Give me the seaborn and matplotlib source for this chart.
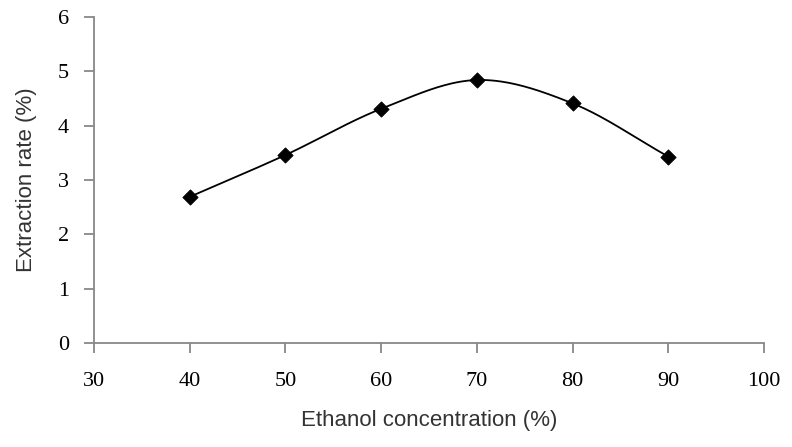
import numpy as np
import pandas as pd
import matplotlib
matplotlib.use("Agg")
import matplotlib.pyplot as plt
import seaborn as sns

# Data
ethanol = [40, 50, 60, 70, 80, 90]
extraction = [2.69, 3.46, 4.31, 4.84, 4.41, 3.43]
x_ticks = [30, 40, 50, 60, 70, 80, 90, 100]
y_ticks = [0, 1, 2, 3, 4, 5, 6]

sns.set_theme(style="white")
plt.rcParams["font.family"] = ["Liberation Sans", "DejaVu Sans"]


def smooth_curve(xs, ys, n=40, tension=0.5):
    """Catmull-Rom style smoothing (like a spreadsheet 'smoothed line')."""
    xs = np.asarray(xs, float)
    ys = np.asarray(ys, float)
    px = np.concatenate([[2 * xs[0] - xs[1]], xs, [2 * xs[-1] - xs[-2]]])
    py = np.concatenate([[2 * ys[0] - ys[1]], ys, [2 * ys[-1] - ys[-2]]])
    out_x, out_y = [], []
    for i in range(1, len(px) - 2):
        p0, p1, p2, p3 = (np.array([px[j], py[j]]) for j in (i - 1, i, i + 1, i + 2))
        c1 = p1 + (p2 - p0) * tension / 3
        c2 = p2 - (p3 - p1) * tension / 3
        t = np.linspace(0, 1, n)[:, None]
        b = ((1 - t) ** 3) * p1 + 3 * ((1 - t) ** 2) * t * c1 + 3 * (1 - t) * t ** 2 * c2 + t ** 3 * p2
        out_x.extend(b[:, 0])
        out_y.extend(b[:, 1])
    return np.array(out_x), np.array(out_y)


sx, sy = smooth_curve(ethanol, extraction)
curve = pd.DataFrame({"x": sx, "y": sy})
pts = pd.DataFrame({"x": ethanol, "y": extraction})

fig = plt.figure(figsize=(7.92, 4.47), dpi=100)
ax = fig.add_axes([0.1187, 0.2327, 0.8460, 0.7293])

sns.lineplot(data=curve, x="x", y="y", ax=ax, color="black", linewidth=1.3, sort=False,
             estimator=None)
sns.scatterplot(data=pts, x="x", y="y", ax=ax, marker="D", s=60, color="black",
                edgecolor="black", zorder=5)

ax.set_xlim(30, 100)
ax.set_ylim(0, 6)
ax.set_xticks(x_ticks)
ax.set_yticks(y_ticks)
ax.set_xticklabels([str(v) for v in x_ticks], family="Liberation Serif", fontsize=16)
ax.set_yticklabels([str(v) for v in y_ticks], family="Liberation Serif", fontsize=16)
ax.set_xlabel("Ethanol concentration (%)", fontsize=16, color="#333333")
ax.set_ylabel("Extraction rate (%)", fontsize=16, color="#333333")
ax.xaxis.label.set_va("center")
ax.yaxis.label.set_va("center")
ax.xaxis.set_label_coords(0.5, -0.239)
ax.yaxis.set_label_coords(-0.1015, 0.5)

for side in ("top", "right"):
    ax.spines[side].set_visible(False)
for side in ("left", "bottom"):
    ax.spines[side].set_color("#888888")
    ax.spines[side].set_linewidth(1.3)
ax.tick_params(axis="both", direction="out", length=7, width=1.3, color="#888888",
               labelcolor="black", bottom=True, left=True)
ax.tick_params(axis="x", pad=14)
ax.tick_params(axis="y", pad=11)
ax.grid(False)

fig.savefig("out.png", dpi=100)
